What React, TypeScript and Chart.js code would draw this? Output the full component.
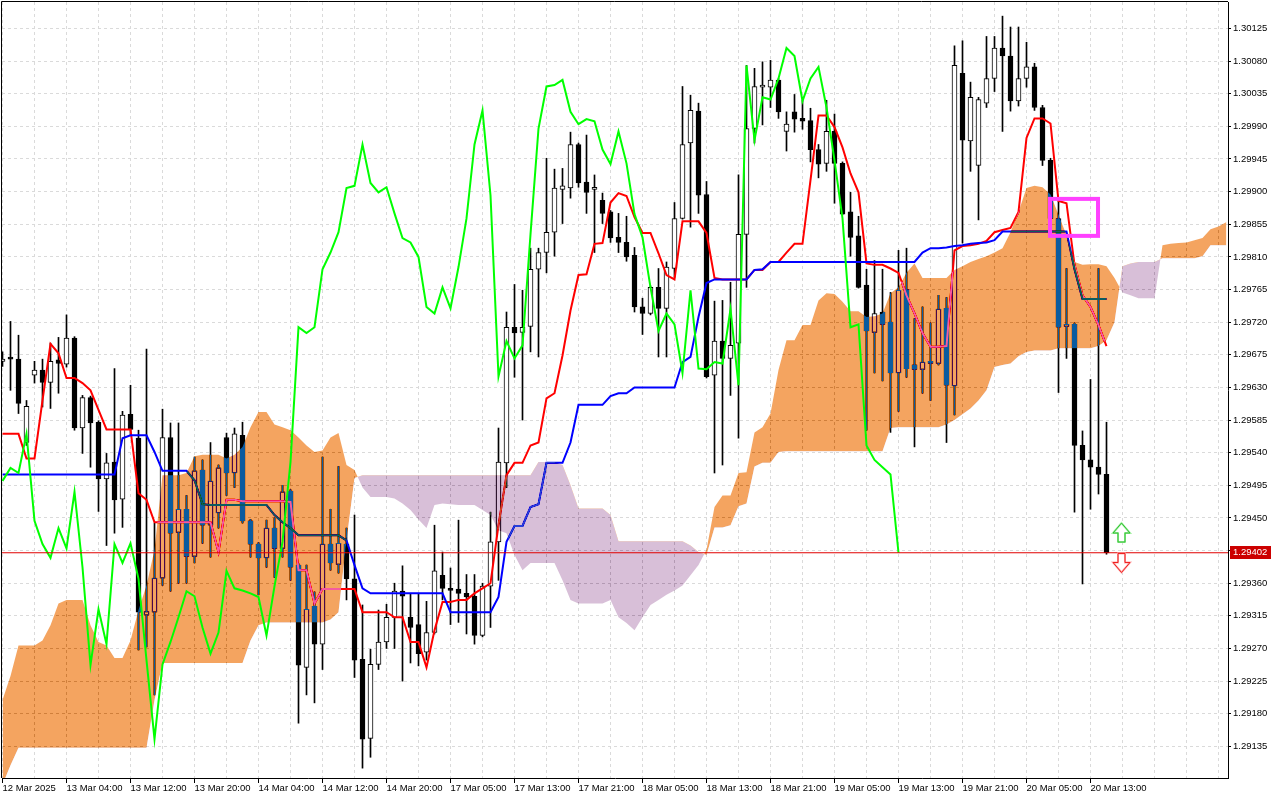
import React, { useEffect, useRef } from 'react';
import { Chart, registerables } from 'chart.js';

Chart.register(...registerables);

// ---------- axis labels ----------
const X_LABELS = [
  '12 Mar 2025', '13 Mar 04:00', '13 Mar 12:00', '13 Mar 20:00', '14 Mar 04:00', '14 Mar 12:00',
  '14 Mar 20:00', '17 Mar 05:00', '17 Mar 13:00', '17 Mar 21:00', '18 Mar 05:00', '18 Mar 13:00',
  '18 Mar 21:00', '19 Mar 05:00', '19 Mar 13:00', '19 Mar 21:00', '20 Mar 05:00', '20 Mar 13:00',
];
const Y_TICKS = [
  1.29135, 1.2918, 1.29225, 1.2927, 1.29315, 1.2936, 1.29405, 1.2945, 1.29495, 1.2954, 1.29585, 1.2963,
  1.29675, 1.2972, 1.29765, 1.2981, 1.29855, 1.299, 1.29945, 1.2999, 1.30035, 1.3008, 1.30125,
];

// ---------- candles (H1) ----------
const OPEN = [
  1.29666, 1.29672, 1.29669, 1.29554, 1.29647, 1.29654, 1.29637, 1.29668, 1.29662, 1.29698,
  1.29574, 1.29616, 1.29582, 1.29504, 1.29527, 1.29476, 1.29593, 1.2956, 1.29316, 1.2932,
  1.29367, 1.29561, 1.2943, 1.29462, 1.29397, 1.29516, 1.2944, 1.29457, 1.29561, 1.29512,
  1.29564, 1.29446, 1.29414, 1.29395, 1.29436, 1.29408, 1.29487, 1.29385, 1.29244, 1.29328,
  1.29276, 1.29414, 1.29386, 1.29414, 1.29366, 1.29255, 1.29146, 1.29248, 1.29279, 1.29313,
  1.29349, 1.29313, 1.29303, 1.29265, 1.29292, 1.29371, 1.29353, 1.29352, 1.29346, 1.29342,
  1.29288, 1.29356, 1.29417, 1.29526, 1.29713, 1.29706, 1.29714, 1.29793, 1.29816, 1.29844,
  1.29903, 1.29905, 1.29965, 1.29913, 1.29903, 1.29888, 1.29872, 1.29837, 1.2983, 1.29812,
  1.29741, 1.29732, 1.29768, 1.29739, 1.29794, 1.29863, 1.29967, 1.30011, 1.29896, 1.29647,
  1.29694, 1.2967, 1.29691, 1.29841, 1.29987, 1.30044, 1.30044, 1.30054, 1.29983, 1.3001,
  1.30001, 1.29998, 1.29958, 1.29939, 1.29983, 1.29939, 1.29872, 1.29839, 1.29771, 1.29706,
  1.29734, 1.2972, 1.2965, 1.29765, 1.29661, 1.29655, 1.29666, 1.29663, 1.29739, 1.29632,
  1.30063, 1.2997, 1.29936, 1.30022, 1.30056, 1.30098, 1.30087, 1.30025, 1.30056, 1.30072,
  1.30016, 1.29943, 1.29863, 1.29714, 1.29717, 1.2955, 1.2953, 1.2952, 1.2951,
];
const HIGH = [
  1.29679, 1.29721, 1.29702, 1.29612, 1.29666, 1.29669, 1.29691, 1.29699, 1.2973, 1.297,
  1.29619, 1.29618, 1.29584, 1.29539, 1.29656, 1.29597, 1.29633, 1.29571, 1.29683, 1.29443,
  1.296, 1.29581, 1.29581, 1.29481, 1.29534, 1.2953, 1.29554, 1.29523, 1.29567, 1.29574,
  1.29582, 1.29448, 1.29416, 1.29447, 1.2945, 1.29495, 1.29489, 1.29387, 1.29385, 1.29348,
  1.29534, 1.29462, 1.29521, 1.29436, 1.29454, 1.2933, 1.29269, 1.29323, 1.29331, 1.2936,
  1.29384, 1.29345, 1.29346, 1.29335, 1.2944, 1.29403, 1.29381, 1.29447, 1.29372, 1.29372,
  1.2936, 1.29458, 1.29574, 1.29734, 1.29772, 1.29764, 1.29822, 1.29822, 1.29946, 1.29931,
  1.29932, 1.29982, 1.29967, 1.29978, 1.29923, 1.29898, 1.29874, 1.2987, 1.29866, 1.29823,
  1.29753, 1.2977, 1.29794, 1.29803, 1.29885, 1.30045, 1.30033, 1.30022, 1.29914, 1.29749,
  1.2975, 1.29775, 1.29923, 1.30074, 1.3007, 1.30079, 1.30081, 1.30056, 1.3001, 1.30034,
  1.30026, 1.30015, 1.29965, 1.30026, 1.30007, 1.29941, 1.29899, 1.29866, 1.29793, 1.29805,
  1.29793, 1.29761, 1.29819, 1.29822, 1.29725, 1.29741, 1.29719, 1.29757, 1.29754, 1.30101,
  1.30108, 1.30051, 1.3003, 1.30114, 1.30114, 1.30142, 1.30127, 1.30127, 1.30106, 1.30077,
  1.30019, 1.29946, 1.29888, 1.29794, 1.29719, 1.2957, 1.29641, 1.29794, 1.29582,
];
const LOW = [
  1.29659, 1.29626, 1.29594, 1.2955, 1.29636, 1.29603, 1.29601, 1.29622, 1.29658, 1.29571,
  1.29539, 1.2952, 1.29459, 1.29412, 1.29429, 1.29437, 1.29564, 1.29268, 1.29272, 1.29206,
  1.29357, 1.29349, 1.2936, 1.2936, 1.29388, 1.29415, 1.29396, 1.29436, 1.29481, 1.29492,
  1.29443, 1.29396, 1.29344, 1.29382, 1.29368, 1.29396, 1.29364, 1.29167, 1.29206, 1.29195,
  1.29241, 1.29378, 1.29374, 1.29337, 1.2923, 1.29105, 1.2912, 1.29241, 1.2927, 1.2927,
  1.29225, 1.2925, 1.29246, 1.29254, 1.2929, 1.29337, 1.29303, 1.29306, 1.2929, 1.29276,
  1.29286, 1.29299, 1.29364, 1.29492, 1.29644, 1.29585, 1.29679, 1.29672, 1.29788, 1.29811,
  1.29856, 1.29891, 1.29906, 1.2987, 1.29816, 1.29856, 1.2983, 1.29816, 1.29804, 1.29734,
  1.29703, 1.2973, 1.29672, 1.29672, 1.29782, 1.29862, 1.29851, 1.2987, 1.29643, 1.29512,
  1.29523, 1.29619, 1.2956, 1.29768, 1.29967, 1.29992, 1.30016, 1.30001, 1.29956, 1.29982,
  1.29986, 1.29941, 1.29919, 1.29928, 1.29884, 1.29868, 1.29811, 1.29767, 1.29571, 1.2965,
  1.29639, 1.29568, 1.29597, 1.29644, 1.29548, 1.29622, 1.29612, 1.29661, 1.29554, 1.29592,
  1.29829, 1.29928, 1.29861, 1.30016, 1.30038, 1.29983, 1.30011, 1.30018, 1.30044, 1.30012,
  1.29936, 1.29858, 1.29623, 1.2967, 1.29458, 1.29359, 1.29462, 1.29483, 1.294,
];
const CLOSE = [
  1.29669, 1.29669, 1.29608, 1.29604, 1.29654, 1.29637, 1.29666, 1.29663, 1.29698, 1.29574,
  1.29616, 1.29581, 1.29504, 1.29526, 1.29475, 1.29592, 1.29572, 1.2932, 1.29321, 1.29367,
  1.29561, 1.29429, 1.29462, 1.29397, 1.29515, 1.2944, 1.29501, 1.29519, 1.29512, 1.29566,
  1.29446, 1.29414, 1.29395, 1.29436, 1.29408, 1.29486, 1.29382, 1.29247, 1.29324, 1.29276,
  1.29414, 1.29388, 1.29415, 1.29366, 1.29254, 1.29145, 1.29248, 1.29279, 1.29313, 1.29349,
  1.29342, 1.29299, 1.29263, 1.29292, 1.29377, 1.29353, 1.2935, 1.29346, 1.29341, 1.29288,
  1.29356, 1.29417, 1.29527, 1.29713, 1.29705, 1.29713, 1.29793, 1.29816, 1.29844, 1.29905,
  1.29908, 1.29965, 1.29912, 1.29899, 1.29906, 1.2987, 1.29836, 1.2983, 1.2981, 1.29741,
  1.29732, 1.29768, 1.29739, 1.29796, 1.29863, 1.29965, 1.30012, 1.29895, 1.29645, 1.29694,
  1.2967, 1.29688, 1.29841, 1.29987, 1.30045, 1.30047, 1.30054, 1.3001, 1.29993, 1.3,
  1.29997, 1.29958, 1.29938, 1.29983, 1.29939, 1.29869, 1.29837, 1.29768, 1.29708, 1.29732,
  1.29717, 1.2965, 1.29764, 1.29656, 1.29655, 1.29665, 1.29663, 1.29738, 1.29633, 1.30074,
  1.29971, 1.3003, 1.30027, 1.30056, 1.30098, 1.30087, 1.30025, 1.30056, 1.30072, 1.30016,
  1.29943, 1.29863, 1.29713, 1.29717, 1.2955, 1.2953, 1.2952, 1.2951, 1.29402,
];

// ---------- Ichimoku ----------
const TENKAN = [
  1.29566, 1.29566, 1.29566, 1.29532, 1.29532, 1.29612, 1.2969, 1.29677, 1.29643, 1.29643,
  1.29636, 1.29626, 1.29599, 1.29572, 1.29572, 1.29572, 1.29572, 1.29484, 1.29475, 1.29444,
  1.29444, 1.29444, 1.29444, 1.29444, 1.29444, 1.29444, 1.29444, 1.29403, 1.29475, 1.29475,
  1.29473, 1.29473, 1.29473, 1.29473, 1.29473, 1.29473, 1.29472, 1.29378, 1.29378, 1.29332,
  1.29352, 1.29352, 1.29352, 1.29352, 1.29352, 1.2932, 1.2932, 1.2932, 1.2932, 1.29313,
  1.29313, 1.29279, 1.29279, 1.29244, 1.29295, 1.29334, 1.29334, 1.29337, 1.29337, 1.29346,
  1.29353, 1.2936, 1.2944, 1.29509, 1.29526, 1.29526, 1.2955, 1.29554, 1.29615, 1.29622,
  1.29674, 1.29736, 1.29785, 1.29786, 1.29828, 1.29829, 1.29885, 1.29898, 1.29894, 1.29865,
  1.29843, 1.29843, 1.29815, 1.29785, 1.29779, 1.29859, 1.29859, 1.29859, 1.29843, 1.29781,
  1.29779, 1.29779, 1.29779, 1.29779, 1.29792, 1.29792, 1.29803, 1.29803, 1.29816, 1.29828,
  1.29828, 1.29916, 1.30005, 1.30005, 1.29989, 1.29961, 1.29925, 1.29899, 1.29801, 1.29799,
  1.29799, 1.29794, 1.29788, 1.29757, 1.29732, 1.29705, 1.29686, 1.29686, 1.29687, 1.29819,
  1.29825, 1.29826, 1.29828, 1.29832, 1.29844, 1.29847, 1.2985, 1.29872, 1.29974, 1.30001,
  1.30001, 1.29994, 1.29887, 1.29884, 1.29799, 1.29757, 1.29741, 1.29716, 1.29687,
];
const KIJUN = [
  1.2951, 1.2951, 1.2951, 1.2951, 1.2951, 1.2951, 1.2951, 1.2951, 1.2951, 1.2951,
  1.2951, 1.2951, 1.2951, 1.2951, 1.2951, 1.2956, 1.29564, 1.29564, 1.29564, 1.29541,
  1.29515, 1.29515, 1.29515, 1.29515, 1.29502, 1.29469, 1.29468, 1.29468, 1.29468, 1.29468,
  1.29468, 1.29468, 1.29468, 1.29468, 1.29454, 1.29444, 1.29436, 1.29426, 1.29426, 1.29426,
  1.29426, 1.29426, 1.29426, 1.29419, 1.29385, 1.29353, 1.29346, 1.29346, 1.29346, 1.29346,
  1.29346, 1.29346, 1.29346, 1.29346, 1.29346, 1.29346, 1.2932, 1.2932, 1.2932, 1.2932,
  1.2932, 1.2932, 1.29341, 1.29417, 1.29439, 1.29439, 1.29465, 1.29469, 1.29526, 1.29526,
  1.29526, 1.29554, 1.29606, 1.29606, 1.29606, 1.29606, 1.29618, 1.29622, 1.29622, 1.2963,
  1.2963, 1.2963, 1.2963, 1.2963, 1.2963, 1.29665, 1.29672, 1.29727, 1.29774, 1.29779,
  1.29779, 1.29779, 1.29779, 1.29779, 1.29792, 1.29793, 1.29803, 1.29803, 1.29803, 1.29803,
  1.29803, 1.29803, 1.29803, 1.29803, 1.29803, 1.29803, 1.29803, 1.29803, 1.29803, 1.29803,
  1.29803, 1.29803, 1.29803, 1.29803, 1.29803, 1.29816, 1.29822, 1.29822, 1.29823, 1.29825,
  1.29826, 1.29828, 1.29829, 1.2983, 1.29833, 1.29845, 1.29845, 1.29845, 1.29845, 1.29845,
  1.29845, 1.29845, 1.29845, 1.29845, 1.29793, 1.29752, 1.29752, 1.29752, 1.29752,
];
const CHIKOU = [
  1.29501, 1.29519, 1.29512, 1.29566, 1.29446, 1.29414, 1.29395, 1.29436, 1.29408, 1.29486,
  1.29382, 1.29247, 1.29324, 1.29276, 1.29414, 1.29388, 1.29415, 1.29366, 1.29254, 1.29145,
  1.29248, 1.29279, 1.29313, 1.29349, 1.29342, 1.29299, 1.29263, 1.29292, 1.29377, 1.29353,
  1.2935, 1.29346, 1.29341, 1.29288, 1.29356, 1.29417, 1.29527, 1.29713, 1.29705, 1.29713,
  1.29793, 1.29816, 1.29844, 1.29905, 1.29908, 1.29965, 1.29912, 1.29899, 1.29906, 1.2987,
  1.29836, 1.2983, 1.2981, 1.29741, 1.29732, 1.29768, 1.29739, 1.29796, 1.29863, 1.29965,
  1.30012, 1.29895, 1.29645, 1.29694, 1.2967, 1.29688, 1.29841, 1.29987, 1.30045, 1.30047,
  1.30054, 1.3001, 1.29993, 1.3, 1.29997, 1.29958, 1.29938, 1.29983, 1.29939, 1.29869,
  1.29837, 1.29768, 1.29708, 1.29732, 1.29717, 1.2965, 1.29764, 1.29656, 1.29655, 1.29665,
  1.29663, 1.29738, 1.29633, 1.30074, 1.29971, 1.3003, 1.30027, 1.30056, 1.30098, 1.30087,
  1.30025, 1.30056, 1.30072, 1.30016, 1.29943, 1.29863, 1.29713, 1.29717, 1.2955, 1.2953,
  1.2952, 1.2951, 1.29402,
];
const SPAN_A = [
  1.29199, 1.29232, 1.29274, 1.29274, 1.29274, 1.29281, 1.29302, 1.29332, 1.29337, 1.29337,
  1.29337, 1.29302, 1.29279, 1.29274, 1.29257, 1.29257, 1.29281, 1.29323, 1.29357, 1.29406,
  1.29509, 1.29509, 1.29509, 1.29512, 1.29535, 1.29537, 1.29537, 1.29537, 1.29532, 1.29537,
  1.29548, 1.29575, 1.29596, 1.29596, 1.29579, 1.29575, 1.29571, 1.29561, 1.2955, 1.29541,
  1.29543, 1.29561, 1.29567, 1.29523, 1.29516, 1.29492, 1.29479, 1.29479, 1.29479, 1.29477,
  1.2947, 1.29461, 1.29448, 1.29436, 1.29468, 1.2947, 1.29469, 1.29468, 1.29468, 1.29468,
  1.29461, 1.29454, 1.29433, 1.29429, 1.29399, 1.29378, 1.29388, 1.29388, 1.29388, 1.29388,
  1.29364, 1.29337, 1.29332, 1.29332, 1.29332, 1.29332, 1.29337, 1.29313, 1.29305, 1.29295,
  1.29313, 1.2933, 1.29337, 1.29344, 1.2935, 1.29357, 1.29371, 1.29385, 1.29406, 1.29465,
  1.29481, 1.29481, 1.29512, 1.29513, 1.29568, 1.29575, 1.29594, 1.29654, 1.29695, 1.29695,
  1.29716, 1.29716, 1.2975, 1.2976, 1.29759, 1.29748, 1.29735, 1.29735, 1.29727, 1.29728,
  1.29732, 1.2976, 1.29768, 1.29788, 1.29801, 1.29781, 1.29781, 1.29781, 1.29781, 1.29792,
  1.29797, 1.29803, 1.29807, 1.29811, 1.29816, 1.29822, 1.29844, 1.29872, 1.29905, 1.29908,
  1.29906, 1.29896, 1.29868, 1.2984, 1.29803, 1.29799, 1.298, 1.298, 1.29797, 1.29781,
  1.29761, 1.29757, 1.29753, 1.29753, 1.29753, 1.29826, 1.29828, 1.29829, 1.2983, 1.29833,
  1.29836, 1.29848, 1.29852, 1.29858,
];
const SPAN_B = [
  1.29082, 1.29109, 1.29133, 1.29133, 1.29133, 1.29133, 1.29133, 1.29133, 1.29133, 1.29133,
  1.29133, 1.29133, 1.29133, 1.29133, 1.29133, 1.29133, 1.29133, 1.29133, 1.29133, 1.29199,
  1.2925, 1.2925, 1.2925, 1.2925, 1.2925, 1.2925, 1.2925, 1.2925, 1.2925, 1.2925,
  1.2925, 1.29281, 1.29302, 1.29306, 1.29306, 1.29306, 1.29306, 1.29306, 1.29306, 1.29306,
  1.29306, 1.2931, 1.2932, 1.29419, 1.29505, 1.29509, 1.29509, 1.29509, 1.29509, 1.29509,
  1.29509, 1.29509, 1.29509, 1.29509, 1.29509, 1.29509, 1.29509, 1.29509, 1.29509, 1.29509,
  1.29509, 1.29509, 1.29509, 1.29509, 1.29509, 1.29509, 1.29509, 1.29527, 1.29527, 1.29527,
  1.29523, 1.29495, 1.29463, 1.29463, 1.29463, 1.29463, 1.29454, 1.29418, 1.29418, 1.29418,
  1.29418, 1.29418, 1.29418, 1.29418, 1.29418, 1.29418, 1.29412, 1.29403, 1.29399, 1.29437,
  1.29437, 1.2944, 1.29466, 1.2947, 1.29521, 1.29526, 1.29526, 1.29541, 1.29542, 1.29542,
  1.29542, 1.29542, 1.29542, 1.29542, 1.29542, 1.29542, 1.29542, 1.29542, 1.29542, 1.29542,
  1.29542, 1.29574, 1.29575, 1.29575, 1.29575, 1.29575, 1.29575, 1.29575, 1.29579, 1.29585,
  1.29593, 1.29601, 1.29612, 1.29626, 1.29658, 1.29661, 1.29663, 1.29673, 1.29679, 1.29681,
  1.29681, 1.29681, 1.29684, 1.29684, 1.29684, 1.29684, 1.29684, 1.29687, 1.29695, 1.2972,
  1.29797, 1.29801, 1.29803, 1.29803, 1.29803, 1.29808, 1.29808, 1.29808, 1.29808, 1.29808,
  1.29811, 1.29826, 1.29826, 1.29826,
];

// ---------- objects on the chart ----------
const CURRENT_PRICE = 1.29402;
const BOX = { from: 130.94, to: 136.94, top: 1.2989, bottom: 1.29839 };
const ARROWS = [
  { at: 139.875, price: 1.29443, dir: 'up' },
  { at: 139.875, price: 1.29401, dir: 'down' },
];

const X_MIN = -0.0625;
const X_MAX = 153.1875;
const Y_MIN = 1.290914;
const Y_MAX = 1.301615;
const FONT_FAMILY = '"Liberation Sans", Arial, sans-serif';
const FONT_SIZE = 9.5;

function drawArrow(ctx: CanvasRenderingContext2D, cx: number, y: number, dir: string, outer: string, inner: string) {
  const hw = 8.5, sw = 3.5, headH = 10, total = 19;
  ctx.beginPath();
  if (dir === 'up') {
    ctx.moveTo(cx, y);
    ctx.lineTo(cx + hw, y + headH);
    ctx.lineTo(cx + sw, y + headH);
    ctx.lineTo(cx + sw, y + total);
    ctx.lineTo(cx - sw, y + total);
    ctx.lineTo(cx - sw, y + headH);
    ctx.lineTo(cx - hw, y + headH);
  } else {
    ctx.moveTo(cx - sw, y);
    ctx.lineTo(cx + sw, y);
    ctx.lineTo(cx + sw, y + total - headH);
    ctx.lineTo(cx + hw, y + total - headH);
    ctx.lineTo(cx, y + total);
    ctx.lineTo(cx - hw, y + total - headH);
    ctx.lineTo(cx - sw, y + total - headH);
  }
  ctx.closePath();
  ctx.fillStyle = '#ffffff';
  ctx.fill();
  ctx.lineWidth = 2;
  ctx.strokeStyle = outer;
  ctx.stroke();
  ctx.lineWidth = 1;
  ctx.strokeStyle = inner;
  ctx.stroke();
}

export default function App() {
  const ref = useRef<HTMLCanvasElement>(null);

  useEffect(() => {
    document.body.style.margin = '0';
    const canvas = ref.current;
    if (!canvas) return;
    const pts = (arr: number[]) => arr.map((v, i) => ({ x: i, y: v }));
    const xTicks: number[] = [];
    for (let k = 0; k <= 152; k += 4) xTicks.push(k);

    const mt4Plugin: any = {
      id: 'mt4Helpers',
      beforeDraw(chart: any) {
        const { ctx, width, height } = chart;
        ctx.save();
        ctx.fillStyle = '#ffffff';
        ctx.fillRect(0, 0, width, height);
        ctx.restore();
      },
      afterDatasetDraw(chart: any, args: any) {
        const ds = chart.data.datasets[args.index];
        if (ds.blendStart) {
          chart.ctx.save();
          chart.ctx.globalCompositeOperation = 'difference';
        }
        if (ds.blendEnd) {
          chart.ctx.restore();
        }
      },
      afterDatasetsDraw(chart: any) {
        const { ctx, chartArea, scales } = chart;
        const xs = scales.x, ys = scales.y;
        ctx.save();
        // frame (left & top)
        ctx.strokeStyle = '#000';
        ctx.lineWidth = 1;
        ctx.beginPath();
        ctx.moveTo(chartArea.left - 0.5, chartArea.top - 0.5);
        ctx.lineTo(chartArea.left - 0.5, chartArea.bottom);
        ctx.moveTo(chartArea.left - 0.5, chartArea.top - 0.5);
        ctx.lineTo(chartArea.right, chartArea.top - 0.5);
        ctx.stroke();
        // rectangle object
        const x0 = xs.getPixelForValue(BOX.from), x1 = xs.getPixelForValue(BOX.to);
        const y0 = ys.getPixelForValue(BOX.top), y1 = ys.getPixelForValue(BOX.bottom);
        ctx.strokeStyle = '#ff40ff';
        ctx.lineWidth = 4;
        ctx.strokeRect(x0, y0, x1 - x0, y1 - y0);
        // arrows
        ARROWS.forEach((a) => {
          const cx = xs.getPixelForValue(a.at);
          const y = ys.getPixelForValue(a.price);
          if (a.dir === 'up') drawArrow(ctx, cx, y, 'up', '#a6f0a6', '#2fbf2f');
          else drawArrow(ctx, cx, y, 'down', '#ffb0b0', '#ee2222');
        });
        ctx.restore();
      },
      afterDraw(chart: any) {
        const { ctx, chartArea, scales } = chart;
        const y = scales.y.getPixelForValue(CURRENT_PRICE);
        ctx.save();
        ctx.fillStyle = '#cc0000';
        ctx.fillRect(chartArea.right + 2, Math.round(y) - 7, 41, 13);
        ctx.fillStyle = '#ffffff';
        ctx.font = `${FONT_SIZE}px ${FONT_FAMILY}`;
        ctx.textAlign = 'left';
        ctx.textBaseline = 'middle';
        ctx.fillText(CURRENT_PRICE.toFixed(5), chartArea.right + 5, Math.round(y) - 0.5);
        ctx.restore();
      },
    };

    const chart = new Chart(canvas, {
      type: 'bar',
      data: {
        datasets: [
          {
            type: 'bar', label: 'Wick',
            data: HIGH.map((h, i) => ({ x: i, y: [LOW[i], h] })),
            backgroundColor: '#000000', borderWidth: 0, barThickness: 1, grouped: false, order: 100,
          },
          {
            type: 'bar', label: 'Body',
            data: OPEN.map((o, i) => ({ x: i, y: [o, CLOSE[i]] })),
            backgroundColor: OPEN.map((o, i) => (CLOSE[i] >= o ? '#ffffff' : '#000000')),
            borderColor: '#000000', borderWidth: 1, borderSkipped: false,
            barThickness: 5, grouped: false, order: 90,
          },
          {
            type: 'line', label: 'Tenkan-sen', data: pts(TENKAN),
            borderColor: '#ff0000', borderWidth: 2, pointRadius: 0, tension: 0, order: 80,
          },
          {
            type: 'line', label: 'Kijun-sen', data: pts(KIJUN),
            borderColor: '#0000ff', borderWidth: 2, pointRadius: 0, tension: 0, order: 70,
            blendStart: true,
          },
          {
            type: 'line', label: 'Senkou Span A', data: pts(SPAN_A),
            borderWidth: 0, borderColor: 'rgba(0,0,0,0)', pointRadius: 0, tension: 0, order: 60,
            fill: { target: 5, above: '#0b5b9f', below: '#274027' },
            blendEnd: true,
          },
          {
            type: 'line', label: 'Senkou Span B', data: pts(SPAN_B),
            borderWidth: 0, borderColor: 'rgba(0,0,0,0)', pointRadius: 0, tension: 0, order: 50, fill: false,
          },
          {
            type: 'line', label: 'Chikou Span', data: pts(CHIKOU),
            borderColor: '#00ff00', borderWidth: 2, pointRadius: 0, tension: 0, order: 40,
          },
          {
            type: 'line', label: 'Bid',
            data: [{ x: X_MIN, y: CURRENT_PRICE }, { x: X_MAX, y: CURRENT_PRICE }],
            borderColor: '#e00000', borderWidth: 1, pointRadius: 0, order: 30,
          },
        ] as any,
      },
      options: {
        animation: false,
        responsive: false,
        devicePixelRatio: 1,
        events: [],
        layout: { padding: { left: 2, top: 2, right: 0, bottom: 0 } },
        plugins: { legend: { display: false }, tooltip: { enabled: false }, title: { display: false } },
        scales: {
          x: {
            type: 'linear', min: X_MIN, max: X_MAX, offset: false,
            afterBuildTicks: (s: any) => { s.ticks = xTicks.map((v) => ({ value: v })); },
            afterFit: (s: any) => { s.height = 22; s.paddingLeft = 0; s.paddingRight = 0; },
            ticks: {
              autoSkip: false, maxRotation: 0, minRotation: 0, align: 'start', padding: 0,
              color: '#000000', font: { family: FONT_FAMILY, size: FONT_SIZE },
              callback: (v: any) => {
                const k = Number(v);
                return k % 8 === 0 && X_LABELS[k / 8] ? X_LABELS[k / 8] : '';
              },
            },
            grid: {
              color: '#dadada', lineWidth: 1, offset: false, drawTicks: true, tickLength: 5,
              tickBorderDash: [],
              tickColor: (c: any) => (c.tick && c.tick.value % 8 === 0 && c.tick.value <= 136 ? '#000000' : 'rgba(0,0,0,0)'),
            },
            border: { display: true, color: '#000000', width: 1, dash: [3, 3] },
          },
          y: {
            type: 'linear', position: 'right', min: Y_MIN, max: Y_MAX,
            afterBuildTicks: (s: any) => { s.ticks = Y_TICKS.map((v) => ({ value: v })); },
            afterFit: (s: any) => { s.width = 52; s.paddingTop = 0; s.paddingBottom = 0; },
            ticks: {
              padding: 2, color: '#000000', font: { family: FONT_FAMILY, size: FONT_SIZE },
              callback: (v: any) => Number(v).toFixed(5),
            },
            grid: { color: '#dadada', lineWidth: 1, drawTicks: true, tickLength: 3, tickColor: '#000000', tickBorderDash: [] },
            border: { display: true, color: '#000000', width: 1, dash: [3, 3] },
          },
        },
      } as any,
      plugins: [mt4Plugin],
    });

    return () => chart.destroy();
  }, []);

  return (
    <div style={{ position: 'fixed', left: 0, top: 0, width: 1280, height: 800, background: '#ffffff' }}>
      <canvas ref={ref} width={1280} height={800} style={{ display: 'block', width: 1280, height: 800 }} />
    </div>
  );
}
